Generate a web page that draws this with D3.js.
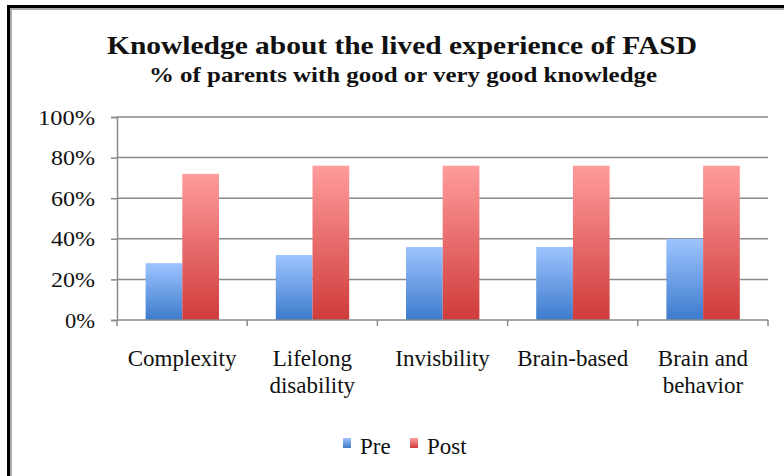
<!DOCTYPE html>
<html>
<head>
<meta charset="utf-8">
<title>Knowledge about the lived experience of FASD</title>
<script src="https://d3js.org/d3.v7.min.js"></script>
<style>
  html, body { margin: 0; padding: 0; background: #fff; }
  svg { display: block; }
  text { font-family: "Liberation Serif", "DejaVu Serif", serif; fill: #111; }
</style>
</head>
<body>
<script>
var categories = [["Complexity"], ["Lifelong", "disability"], ["Invisbility"], ["Brain-based"], ["Brain and", "behavior"]];
var series = ["Pre", "Post"];
var preValues = [0.28, 0.32, 0.36, 0.36, 0.40];
var postValues = [0.72, 0.76, 0.76, 0.76, 0.76];
var yTicks = [0, 0.2, 0.4, 0.6, 0.8, 1.0];

var width = 784, height = 476;
var plotLeft = 117, plotRight = 768, plotTop = 117, plotBottom = 320;

var svg = d3.select("body").append("svg")
    .attr("width", width)
    .attr("height", height);

var defs = svg.append("defs");
function grad(id, c1, c2) {
  var g = defs.append("linearGradient").attr("id", id)
      .attr("x1", 0).attr("y1", 0).attr("x2", 0).attr("y2", 1);
  g.append("stop").attr("offset", "0%").attr("stop-color", c1);
  g.append("stop").attr("offset", "100%").attr("stop-color", c2);
}
grad("gPre", "#9ec4ff", "#3d7bcc");
grad("gPost", "#ff9c9c", "#cf3b3a");

// frame (only top and left edges show)
svg.append("line").attr("x1", 8.5).attr("x2", 8.5).attr("y1", 5).attr("y2", height)
    .attr("stroke", "#000").attr("stroke-width", 3);
svg.append("line").attr("x1", 7).attr("x2", width).attr("y1", 6.5).attr("y2", 6.5)
    .attr("stroke", "#000").attr("stroke-width", 3);
svg.append("line").attr("x1", 11).attr("x2", 11).attr("y1", 8).attr("y2", height)
    .attr("stroke", "#aaa").attr("stroke-width", 2);
svg.append("line").attr("x1", 10).attr("x2", width).attr("y1", 9).attr("y2", 9)
    .attr("stroke", "#aaa").attr("stroke-width", 2);

// titles
svg.append("text").attr("x", 402).attr("y", 54)
    .attr("text-anchor", "middle").attr("font-size", 26).attr("font-weight", "bold")
    .attr("textLength", 590).attr("lengthAdjust", "spacingAndGlyphs")
    .text("Knowledge about the lived experience of FASD");
svg.append("text").attr("x", 403).attr("y", 82)
    .attr("text-anchor", "middle").attr("font-size", 21).attr("font-weight", "bold")
    .attr("textLength", 508).attr("lengthAdjust", "spacingAndGlyphs")
    .text("% of parents with good or very good knowledge");

var x0 = d3.scaleBand().domain(d3.range(categories.length)).range([plotLeft, plotRight]).padding(0);
var x1 = d3.scaleBand().domain(series).range([28.6, 102]).padding(0);
var y = d3.scaleLinear().domain([0, 1]).range([plotBottom, plotTop]);

// gridlines
svg.append("g").selectAll("line").data(yTicks.filter(function (d) { return d > 0; }))
  .enter().append("line")
    .attr("x1", plotLeft).attr("x2", plotRight)
    .attr("y1", function (d) { return y(d); }).attr("y2", function (d) { return y(d); })
    .attr("stroke", "#8a8a8a").attr("stroke-width", 1.5);

// y axis
var yAxis = svg.append("g").attr("transform", "translate(" + plotLeft + ",0)")
    .call(d3.axisLeft(y).tickValues(yTicks).tickFormat(d3.format(".0%")).tickSize(6).tickPadding(16));
yAxis.select(".domain").attr("stroke", "#8a8a8a").attr("stroke-width", 1.5);
yAxis.selectAll(".tick line").attr("stroke", "#8a8a8a").attr("stroke-width", 1.5);
yAxis.selectAll(".tick text").attr("font-size", 22).attr("fill", "#111")
    .attr("textLength", function (d) { return d === 1 ? 57 : d === 0 ? 30 : 44; })
    .attr("lengthAdjust", "spacingAndGlyphs")
    .style("font-family", "'Liberation Serif', serif");

// bars
var groups = svg.append("g").selectAll("g").data(d3.range(categories.length))
  .enter().append("g")
    .attr("transform", function (i) { return "translate(" + x0(i) + ",0)"; });
groups.selectAll("rect")
    .data(function (i) { return [{ s: "Pre", v: preValues[i] }, { s: "Post", v: postValues[i] }]; })
  .enter().append("rect")
    .attr("x", function (d) { return x1(d.s); })
    .attr("width", x1.bandwidth())
    .attr("y", function (d) { return y(d.v); })
    .attr("height", function (d) { return plotBottom - y(d.v); })
    .attr("fill", function (d) { return d.s === "Pre" ? "url(#gPre)" : "url(#gPost)"; });

// x axis
svg.append("line").attr("x1", plotLeft).attr("x2", plotRight).attr("y1", plotBottom).attr("y2", plotBottom)
    .attr("stroke", "#8a8a8a").attr("stroke-width", 1.5);
svg.append("g").selectAll("line").data(d3.range(categories.length + 1))
  .enter().append("line")
    .attr("x1", function (i) { return plotLeft + i * x0.step(); })
    .attr("x2", function (i) { return plotLeft + i * x0.step(); })
    .attr("y1", plotBottom).attr("y2", plotBottom + 6)
    .attr("stroke", "#8a8a8a").attr("stroke-width", 1.5);

var labels = svg.append("g").selectAll("text").data(categories)
  .enter().append("text")
    .attr("text-anchor", "middle")
    .attr("font-size", 23)
    .attr("x", function (d, i) { return x0(i) + x0.bandwidth() / 2; })
    .attr("y", 366);
labels.selectAll("tspan").data(function (d) { return d; })
  .enter().append("tspan")
    .attr("x", function () { return d3.select(this.parentNode).attr("x"); })
    .attr("dy", function (d, j) { return j === 0 ? 0 : 27; })
    .text(function (d) { return d; });

// legend
var legendX = [343, 410];
var legend = svg.append("g").selectAll("g").data(series)
  .enter().append("g")
    .attr("transform", function (d, i) { return "translate(" + legendX[i] + ",438)"; });
legend.append("rect").attr("width", 8).attr("height", 10)
    .attr("fill", function (d) { return d === "Pre" ? "url(#gPre)" : "url(#gPost)"; });
legend.append("text").attr("x", 17).attr("y", 16).attr("font-size", 23)
    .text(function (d) { return d; });
</script>
</body>
</html>
